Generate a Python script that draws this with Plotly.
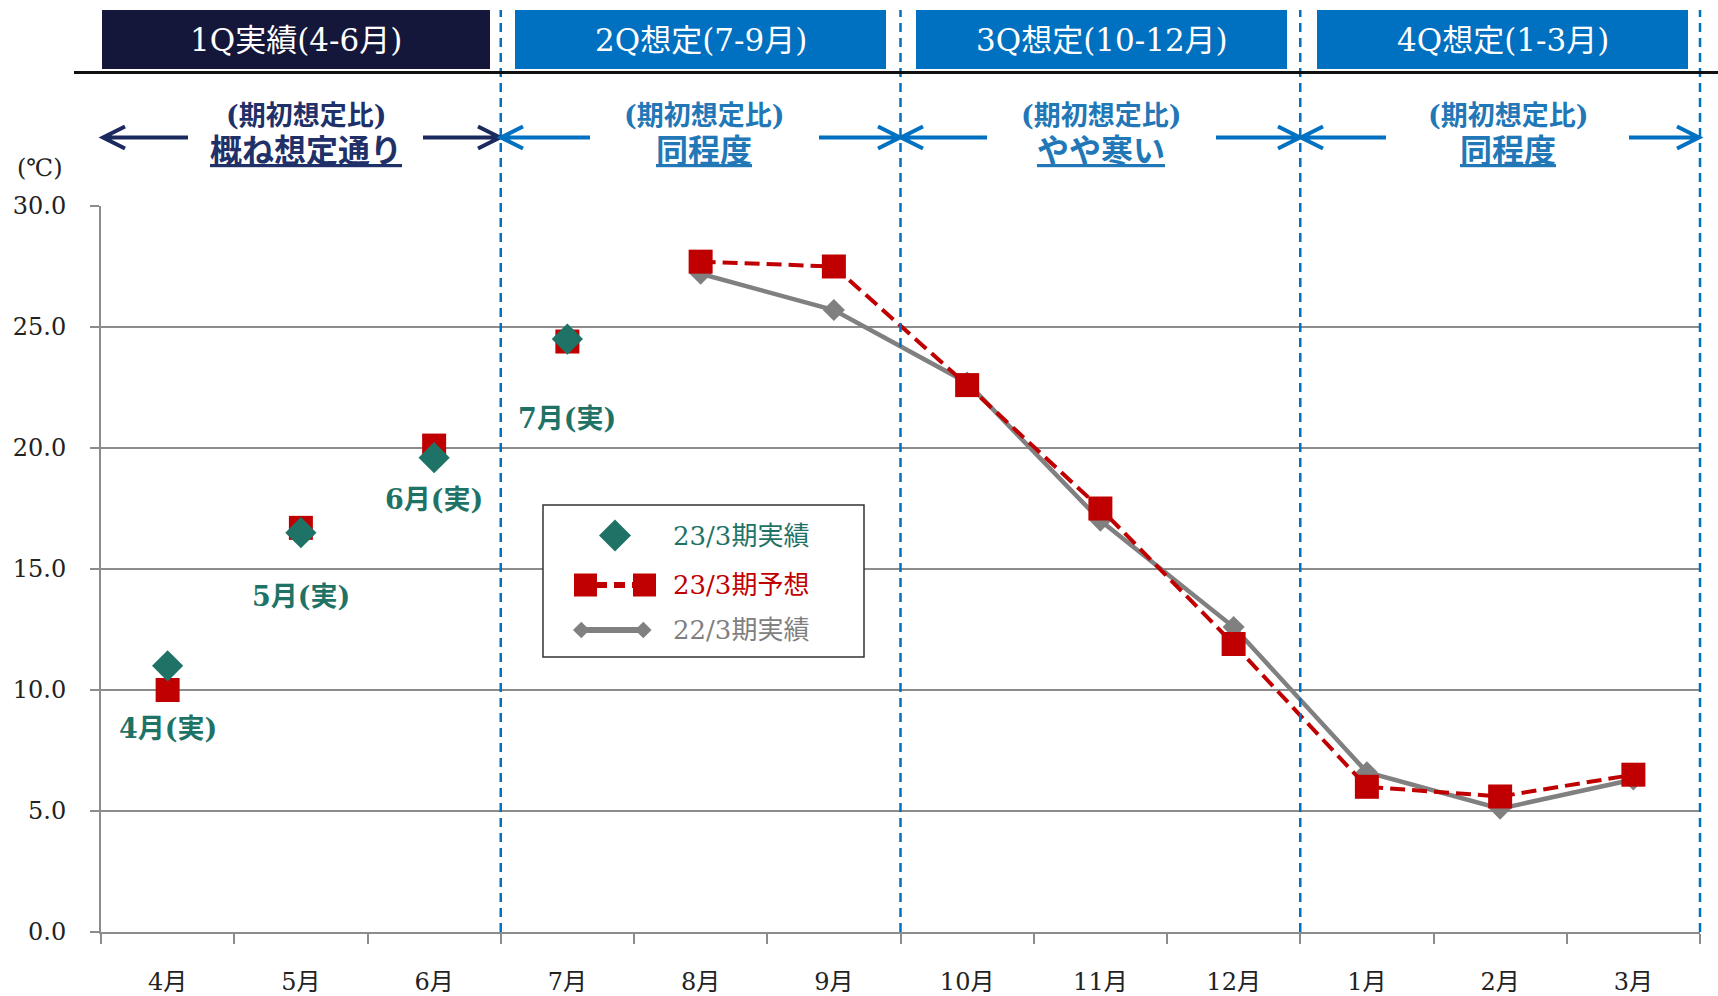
import plotly.graph_objects as go

# ---- data -------------------------------------------------------------
months = ["4月", "5月", "6月", "7月", "8月", "9月",
          "10月", "11月", "12月", "1月", "2月", "3月"]
actual_23 = [11.0, 16.5, 19.6, 24.5]                       # 23/3期実績 (4月〜7月)
forecast_23 = [10.0, 16.7, 20.1, 24.4, 27.7, 27.5,
               22.6, 17.5, 11.9, 6.0, 5.6, 6.5]            # 23/3期予想
actual_22 = [None, None, None, None, 27.2, 25.7,
             22.7, 17.0, 12.6, 6.6, 5.1, 6.3]              # 22/3期実績
actual_labels = ["4月(実)", "5月(実)", "6月(実)", "7月(実)"]
series_names = ["23/3期実績", "23/3期予想", "22/3期実績"]

quarters = ["1Q実績(4-6月)", "2Q想定(7-9月)", "3Q想定(10-12月)", "4Q想定(1-3月)"]
compare_head = "(期初想定比)"
comparisons = ["概ね想定通り", "同程度", "やや寒い", "同程度"]

# ---- style ------------------------------------------------------------
W, H = 1718, 996
L, R, T, B = 101, 18, 206, 64
PW, PH = W - L - R, H - T - B

TEAL = "#1F7366"
RED = "#C00000"
GRAY = "#808080"
GRID = "#8C8C8C"
NAVY_BOX = "#14163A"
BLUE = "#0070C0"
NAVY_TXT = "#1F3168"
BLUE_TXT = "#2277B7"
FONT = "DejaVu Serif, Noto Sans CJK JP, serif"


def px_x(x):
    return (x - L) / PW


def px_y(y):
    return (H - B - y) / PH


fig = go.Figure()

# 22/3期実績
fig.add_trace(go.Scatter(
    x=months, y=actual_22, mode="lines+markers", name=series_names[2],
    line=dict(color=GRAY, width=4.5),
    marker=dict(symbol="diamond", size=17, color=GRAY),
    showlegend=False))

# 23/3期予想 (8月以降は破線で結ぶ)
fig.add_trace(go.Scatter(
    x=months[4:], y=forecast_23[4:], mode="lines+markers", name=series_names[1],
    line=dict(color=RED, width=4, dash="15px,7px"),
    marker=dict(symbol="square", size=24, color=RED),
    showlegend=False))
fig.add_trace(go.Scatter(
    x=months[:4], y=forecast_23[:4], mode="markers", name=series_names[1],
    marker=dict(symbol="square", size=24, color=RED),
    showlegend=False))

# 23/3期実績
fig.add_trace(go.Scatter(
    x=months[:4], y=actual_23, mode="markers", name=series_names[0],
    marker=dict(symbol="diamond", size=24, color=TEAL),
    showlegend=False))

shapes = []
annotations = []

# quarter boundaries
for b in (0.25, 0.5, 0.75, 1.0):
    shapes.append(dict(type="line", xref="paper", yref="paper",
                       x0=b, x1=b, y0=0, y1=px_y(10),
                       line=dict(color=BLUE, width=2.5, dash="9px,6px"),
                       layer="above"))

# header boxes
box_x = [(102, 490), (515, 886), (916, 1287), (1317, 1688)]
box_fill = [NAVY_BOX, BLUE, BLUE, BLUE]
for (x0, x1), fill, txt in zip(box_x, box_fill, quarters):
    shapes.append(dict(type="rect", xref="paper", yref="paper",
                       x0=px_x(x0), x1=px_x(x1), y0=px_y(69), y1=px_y(10),
                       fillcolor=fill, line=dict(width=0), layer="above"))
    annotations.append(dict(xref="paper", yref="paper",
                            x=px_x((x0 + x1) / 2), y=px_y(39.5),
                            text=txt, showarrow=False,
                            font=dict(family=FONT, size=31, color="white"),
                            xanchor="center", yanchor="middle"))

# header rule
shapes.append(dict(type="line", xref="paper", yref="paper",
                   x0=px_x(74), x1=px_x(1718), y0=px_y(72.5), y1=px_y(72.5),
                   line=dict(color="#111111", width=3), layer="above"))

# comparison arrows and captions
sections = [
    dict(cx=306, left=(103, 188), right=(423, 500), arrow="#1B2A5E", text=NAVY_TXT),
    dict(cx=704, left=(501, 590), right=(819, 900), arrow=BLUE, text=BLUE_TXT),
    dict(cx=1101, left=(901, 987), right=(1216, 1300), arrow=BLUE, text=BLUE_TXT),
    dict(cx=1508, left=(1301, 1386), right=(1629, 1699), arrow=BLUE, text=BLUE_TXT),
]
AY = 137.5
for sec, word in zip(sections, comparisons):
    col = sec["arrow"]
    tip, tail = sec["left"]
    path_l = (f"M{px_x(tail)},{px_y(AY)} L{px_x(tip)},{px_y(AY)} "
              f"M{px_x(tip + 22)},{px_y(AY - 11)} L{px_x(tip)},{px_y(AY)} "
              f"L{px_x(tip + 22)},{px_y(AY + 11)}")
    tail, tip = sec["right"]
    path_r = (f"M{px_x(tail)},{px_y(AY)} L{px_x(tip)},{px_y(AY)} "
              f"M{px_x(tip - 22)},{px_y(AY - 11)} L{px_x(tip)},{px_y(AY)} "
              f"L{px_x(tip - 22)},{px_y(AY + 11)}")
    for p in (path_l, path_r):
        shapes.append(dict(type="path", xref="paper", yref="paper", path=p,
                           line=dict(color=col, width=4), layer="above"))
    annotations.append(dict(xref="paper", yref="paper",
                            x=px_x(sec["cx"]), y=px_y(116),
                            text=f"<b>{compare_head}</b>", showarrow=False,
                            font=dict(family=FONT, size=27, color=sec["text"]),
                            xanchor="center", yanchor="middle"))
    annotations.append(dict(xref="paper", yref="paper",
                            x=px_x(sec["cx"]), y=px_y(151),
                            text=f"<b><u>{word}</u></b>", showarrow=False,
                            font=dict(family=FONT, size=32, color=sec["text"]),
                            xanchor="center", yanchor="middle"))

# unit label
annotations.append(dict(xref="paper", yref="paper", x=px_x(40), y=px_y(168),
                        text="(℃)", showarrow=False,
                        font=dict(family=FONT, size=24, color="#222222"),
                        xanchor="center", yanchor="middle"))

# actual-month labels under the markers
label_shift = [-63, -64, -42, -79]
for m, v, lab, dy in zip(months, actual_23, actual_labels, label_shift):
    annotations.append(dict(x=m, y=v, xref="x", yref="y", text=f"<b>{lab}</b>",
                            showarrow=False, yshift=dy,
                            font=dict(family=FONT, size=27, color=TEAL),
                            xanchor="center", yanchor="middle"))

# legend box
shapes.append(dict(type="rect", xref="paper", yref="paper",
                   x0=px_x(543), x1=px_x(864), y0=px_y(657), y1=px_y(505),
                   fillcolor="white", line=dict(color="#333333", width=1.5),
                   layer="above"))


def diamond(cx, cy, r, color):
    p = (f"M{px_x(cx - r)},{px_y(cy)} L{px_x(cx)},{px_y(cy - r)} "
         f"L{px_x(cx + r)},{px_y(cy)} L{px_x(cx)},{px_y(cy + r)} Z")
    return dict(type="path", xref="paper", yref="paper", path=p,
                fillcolor=color, line=dict(width=0), layer="above")


def square(cx, cy, r, color):
    return dict(type="rect", xref="paper", yref="paper",
                x0=px_x(cx - r), x1=px_x(cx + r), y0=px_y(cy + r), y1=px_y(cy - r),
                fillcolor=color, line=dict(width=0), layer="above")


rows = [535.5, 585, 630]
shapes.append(diamond(615, rows[0], 16, TEAL))
shapes.append(dict(type="line", xref="paper", yref="paper",
                   x0=px_x(596), x1=px_x(634), y0=px_y(rows[1]), y1=px_y(rows[1]),
                   line=dict(color=RED, width=6, dash="11px,7px"), layer="above"))
shapes.append(square(585.5, rows[1], 11.5, RED))
shapes.append(square(644.5, rows[1], 11.5, RED))
shapes.append(dict(type="line", xref="paper", yref="paper",
                   x0=px_x(581), x1=px_x(643), y0=px_y(rows[2]), y1=px_y(rows[2]),
                   line=dict(color=GRAY, width=6), layer="above"))
shapes.append(diamond(581.3, rows[2], 8.3, GRAY))
shapes.append(diamond(643.3, rows[2], 8.3, GRAY))
for name, cy, col in zip(series_names, rows, [TEAL, RED, GRAY]):
    annotations.append(dict(xref="paper", yref="paper", x=px_x(671), y=px_y(cy),
                            text=name, showarrow=False,
                            font=dict(family=FONT, size=26, color=col),
                            xanchor="left", yanchor="middle"))

fig.update_layout(
    width=W, height=H,
    margin=dict(l=L, r=R, t=T, b=B, pad=0, autoexpand=False),
    paper_bgcolor="white", plot_bgcolor="white",
    showlegend=False,
    shapes=shapes, annotations=annotations,
    font=dict(family=FONT, color="#222222"),
)
fig.update_xaxes(
    type="category", categoryorder="array", categoryarray=months,
    range=[-0.5, 11.5], tickson="boundaries", automargin=False,
    showgrid=False, zeroline=False,
    showline=True, linecolor=GRID, linewidth=2,
    ticks="outside", ticklen=10, tickwidth=1.5, tickcolor=GRID,
    tickfont=dict(family=FONT, size=24, color="#222222"),
    ticklabelstandoff=27,
)
fig.update_yaxes(
    range=[0, 30], dtick=5, tickformat=".1f", automargin=False,
    showgrid=True, gridcolor=GRID, gridwidth=1.5, zeroline=False,
    showline=True, linecolor=GRID, linewidth=2,
    ticks="outside", ticklen=9, tickwidth=1.5, tickcolor=GRID,
    tickfont=dict(family=FONT, size=24, color="#222222"),
    ticklabelstandoff=19,
)

fig.write_html("out.html")
